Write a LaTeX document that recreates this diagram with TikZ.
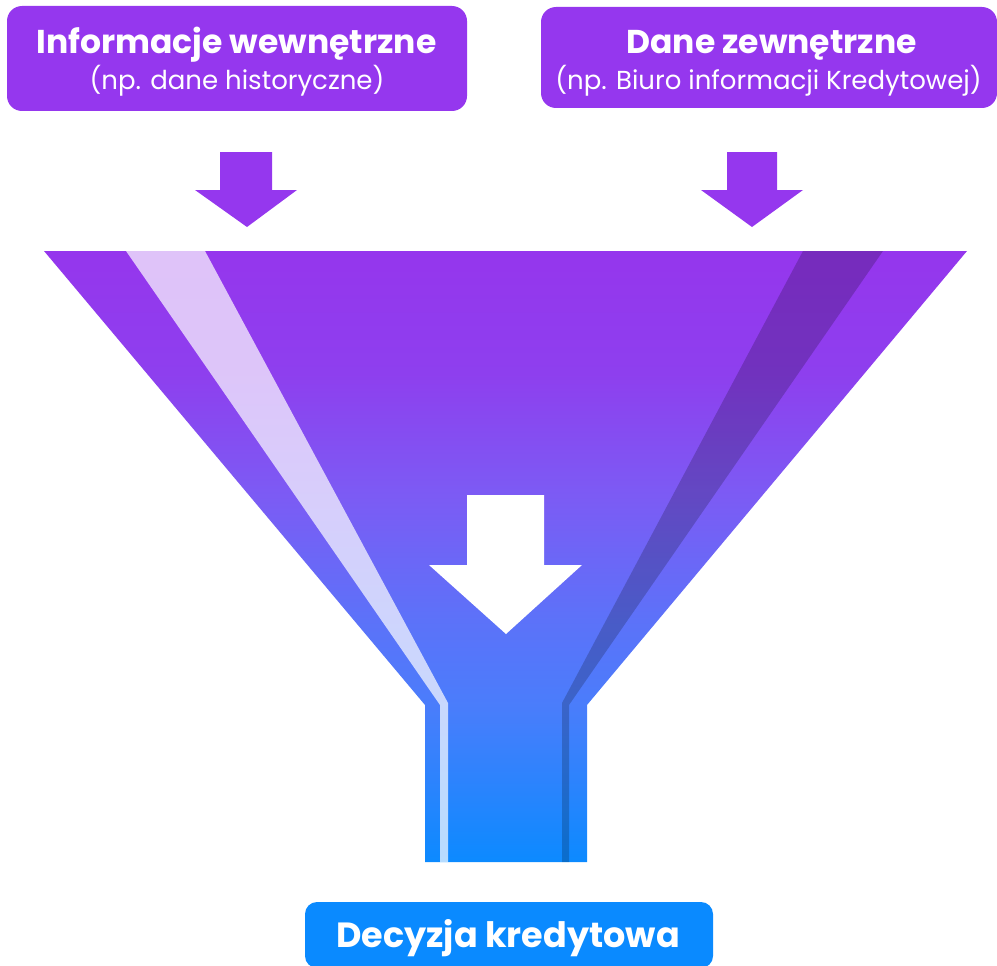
\documentclass[tikz,border=0pt]{standalone}
\usepackage{fontspec}
\setmainfont{Poppins}
\definecolor{purp}{HTML}{9537EE}
\definecolor{blu}{HTML}{0A8AFF}
\definecolor{ftop}{HTML}{9536ED}
\definecolor{fa}{HTML}{8E3FEE}
\definecolor{fb}{HTML}{7C5BF4}
\definecolor{fc}{HTML}{5C72F9}
\definecolor{fd}{HTML}{4A7DFB}
\definecolor{fbot}{HTML}{0C8AFF}
\pgfdeclareverticalshading{funnelgrad}{100bp}{color(0bp)=(fbot); color(25bp)=(fbot); color(37.8bp)=(fd); color(44.8bp)=(fc); color(55bp)=(fb); color(65bp)=(fa); color(75bp)=(ftop); color(100bp)=(ftop)}
\tikzset{
  topbox/.style={fill=purp, rounded corners=15pt, inner sep=0pt},
  botbox/.style={fill=blu, rounded corners=12pt, inner sep=0pt},
  titletext/.style={anchor=base, text=white, font=\bfseries\fontsize{33}{38}\selectfont},
  dectextstyle/.style={anchor=base, text=white, font=\bfseries\fontsize{35}{40}\selectfont},
  subtext/.style={anchor=base, text=white, font=\fontsize{26}{30}\selectfont},
  blockarrow/.style={fill=purp},
}
\begin{document}
\begin{tikzpicture}[x=1pt,y=-1pt]
\useasboundingbox (0,0) rectangle (997,966);
% top boxes
\node[topbox, minimum width=460pt, minimum height=105pt] (inbox) at (237,58.5) {};
\node[titletext] (intitle) at (236.5,54) {Informacje wewnętrzne};
\node[subtext] (insub) at (237,89) {(np. dane historyczne)};
\node[topbox, minimum width=456pt, minimum height=101pt] (exbox) at (769,57.5) {};
\node[titletext] (extitle) at (771.5,54) {Dane zewnętrzne};
\node[subtext] (exsub) at (768.5,89) {(np. Biuro informacji Kredytowej)};
% top arrows
\fill[blockarrow] (220,152) -- (272,152) -- (272,190) -- (297,190) -- (247,227) -- (195,190) -- (220,190) -- cycle;
\fill[blockarrow] (727,152) -- (777,152) -- (777,190) -- (803,190) -- (752,227) -- (701,190) -- (727,190) -- cycle;
% funnel
\shade[shading=funnelgrad] (44,251) -- (967,251) -- (587,705) -- (587,862) -- (425,862) -- (425,705) -- cycle;
\fill[white, opacity=0.7] (126,251) -- (205,251) -- (448,703) -- (448,862) -- (440,862) -- (440,705) -- cycle;
\fill[black, opacity=0.2] (803,251) -- (883,251) -- (569,705) -- (569,862) -- (562,862) -- (562,703) -- cycle;
% center arrow
\fill[white] (467,495) -- (544,495) -- (544,565) -- (582,565) -- (506,634) -- (429,565) -- (467,565) -- cycle;
% bottom box
\node[botbox, minimum width=408pt, minimum height=66pt] (decbox) at (509,935) {};
\node[dectextstyle] (dectext) at (508,947) {Decyzja kredytowa};
\end{tikzpicture}
\end{document}
